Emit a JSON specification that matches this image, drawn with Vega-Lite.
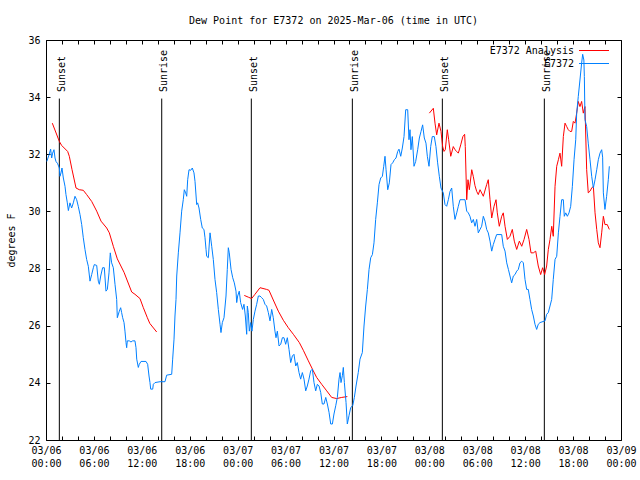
{
  "$schema": "https://vega.github.io/schema/vega-lite/v6.json",
  "autosize": "none",
  "width": 575,
  "height": 400,
  "padding": {"left": 46, "top": 40, "right": 19, "bottom": 40},
  "background": "white",
  "title": {"text": "Dew Point for E7372 on 2025-Mar-06 (time in UTC)", "anchor": "middle", "offset": 9, "font": "DejaVu Sans Mono", "fontSize": 10, "fontWeight": "normal", "color": "#000"},
  "config": {
    "view": {"stroke": "#000", "strokeWidth": 1},
    "font": "DejaVu Sans Mono",
    "axis": {"grid": false, "domain": false, "tickColor": "#000", "tickSize": -4, "labelColor": "#000", "labelFont": "DejaVu Sans Mono", "labelFontSize": 10, "titleFont": "DejaVu Sans Mono", "titleFontSize": 10, "titleFontWeight": "normal", "titleColor": "#000"},
    "legend": {"orient": "none", "legendX": 543, "legendY": 5.5, "symbolType": "M-15,0H15", "symbolSize": 4, "symbolStrokeWidth": 1, "labelAlign": "right", "labelOffset": -25, "labelFont": "DejaVu Sans Mono", "labelFontSize": 10, "labelColor": "#000", "rowPadding": 3, "padding": 0}
  },
  "resolve": {"axis": {"x": "independent", "y": "independent"}},
  "datasets": {
    "sun": [
      {"h": 1.67, "event": "Sunset"},
      {"h": 14.49, "event": "Sunrise"},
      {"h": 25.71, "event": "Sunset"},
      {"h": 38.36, "event": "Sunrise"},
      {"h": 49.63, "event": "Sunset"},
      {"h": 62.4, "event": "Sunrise"}
    ],
    "analysis": [
      {"run":1,"h":0.79,"v":33.09},{"run":1,"h":1.67,"v":32.45},{"run":1,"h":1.96,"v":32.31},{"run":1,"h":2.71,"v":32.10},{"run":1,"h":2.92,"v":31.93},{"run":1,"h":3.26,"v":31.46},{"run":1,"h":3.76,"v":30.82},{"run":1,"h":4.17,"v":30.76},{"run":1,"h":4.67,"v":30.74},{"run":1,"h":5.09,"v":30.59},{"run":1,"h":5.72,"v":30.35},{"run":1,"h":6.35,"v":30.01},{"run":1,"h":6.89,"v":29.66},{"run":1,"h":7.6,"v":29.42},{"run":1,"h":7.93,"v":29.25},{"run":1,"h":8.43,"v":28.78},{"run":1,"h":8.93,"v":28.34},{"run":1,"h":9.77,"v":27.87},{"run":1,"h":10.73,"v":27.18},{"run":1,"h":11.14,"v":27.10},{"run":1,"h":11.77,"v":26.95},{"run":1,"h":12.19,"v":26.63},{"run":1,"h":12.69,"v":26.28},{"run":1,"h":13.0,"v":26.08},{"run":1,"h":13.86,"v":25.78},
      {"run":2,"h":24.83,"v":27.06},{"run":2,"h":25.33,"v":27.0},{"run":2,"h":25.75,"v":26.95},{"run":2,"h":26.17,"v":27.10},{"run":2,"h":26.8,"v":27.33},{"run":2,"h":27.63,"v":27.27},{"run":2,"h":27.92,"v":27.24},{"run":2,"h":28.46,"v":26.9},{"run":2,"h":29.09,"v":26.51},{"run":2,"h":29.72,"v":26.19},{"run":2,"h":30.34,"v":25.93},{"run":2,"h":30.97,"v":25.70},{"run":2,"h":31.72,"v":25.41},{"run":2,"h":32.22,"v":25.14},{"run":2,"h":32.85,"v":24.77},{"run":2,"h":33.47,"v":24.42},{"run":2,"h":33.89,"v":24.19},{"run":2,"h":34.52,"v":23.95},{"run":2,"h":35.15,"v":23.72},{"run":2,"h":35.77,"v":23.49},{"run":2,"h":36.4,"v":23.45},{"run":2,"h":37.03,"v":23.49},{"run":2,"h":37.73,"v":23.52},
      {"run":3,"h":48.0,"v":33.44},{"run":3,"h":48.5,"v":33.61},{"run":3,"h":48.71,"v":33.09},{"run":3,"h":48.92,"v":32.68},{"run":3,"h":49.21,"v":33.09},{"run":3,"h":49.46,"v":32.80},{"run":3,"h":49.67,"v":32.27},{"run":3,"h":49.84,"v":32.10},{"run":3,"h":50.0,"v":32.16},{"run":3,"h":50.25,"v":32.86},{"run":3,"h":50.42,"v":32.51},{"run":3,"h":50.68,"v":31.93},{"run":3,"h":51.0,"v":32.27},{"run":3,"h":51.21,"v":32.16},{"run":3,"h":51.43,"v":32.10},{"run":3,"h":51.63,"v":32.04},{"run":3,"h":51.93,"v":32.33},{"run":3,"h":52.2,"v":32.62},{"run":3,"h":52.42,"v":32.7},{"run":3,"h":52.5,"v":32.27},{"run":3,"h":52.68,"v":30.41},{"run":3,"h":52.84,"v":31.11},{"run":3,"h":53.01,"v":30.76},{"run":3,"h":53.31,"v":31.46},{"run":3,"h":53.5,"v":31.23},{"run":3,"h":53.72,"v":30.9},{"run":3,"h":53.93,"v":30.70},{"run":3,"h":54.13,"v":30.59},{"run":3,"h":54.35,"v":30.76},{"run":3,"h":54.76,"v":30.53},{"run":3,"h":55.18,"v":30.94},{"run":3,"h":55.38,"v":31.11},{"run":3,"h":55.6,"v":30.41},{"run":3,"h":55.81,"v":29.77},{"run":3,"h":56.1,"v":30.18},{"run":3,"h":56.35,"v":30.41},{"run":3,"h":56.51,"v":29.95},{"run":3,"h":56.76,"v":29.48},{"run":3,"h":57.06,"v":29.83},{"run":3,"h":57.26,"v":29.95},{"run":3,"h":57.48,"v":29.48},{"run":3,"h":57.77,"v":29.02},{"run":3,"h":58.1,"v":29.13},{"run":3,"h":58.39,"v":29.37},{"run":3,"h":58.64,"v":28.96},{"run":3,"h":58.94,"v":28.67},{"run":3,"h":59.27,"v":28.96},{"run":3,"h":59.57,"v":28.78},{"run":3,"h":59.86,"v":29.02},{"run":3,"h":60.19,"v":29.37},{"run":3,"h":60.48,"v":29.02},{"run":3,"h":60.73,"v":28.55},{"run":3,"h":61.02,"v":28.55},{"run":3,"h":61.32,"v":28.61},{"run":3,"h":61.64,"v":28.09},{"run":3,"h":61.94,"v":27.79},{"run":3,"h":62.19,"v":28.03},{"run":3,"h":62.44,"v":27.79},{"run":3,"h":62.69,"v":28.09},{"run":3,"h":62.9,"v":28.67},{"run":3,"h":63.11,"v":29.02},{"run":3,"h":63.33,"v":29.48},{"run":3,"h":63.52,"v":29.13},{"run":3,"h":63.74,"v":30.88},{"run":3,"h":63.95,"v":31.58},{"run":3,"h":64.16,"v":31.81},{"run":3,"h":64.36,"v":32.04},{"run":3,"h":64.57,"v":31.58},{"run":3,"h":64.78,"v":32.62},{"run":3,"h":64.99,"v":33.09},{"run":3,"h":65.2,"v":32.97},{"run":3,"h":65.4,"v":32.86},{"run":3,"h":65.61,"v":32.80},{"run":3,"h":65.82,"v":32.80},{"run":3,"h":66.03,"v":33.15},{"run":3,"h":66.24,"v":33.09},{"run":3,"h":66.45,"v":33.44},{"run":3,"h":66.65,"v":33.85},{"run":3,"h":66.86,"v":33.67},{"run":3,"h":67.07,"v":33.85},{"run":3,"h":67.28,"v":33.44},{"run":3,"h":67.49,"v":33.67},{"run":3,"h":67.7,"v":31.46},{"run":3,"h":67.9,"v":30.65},{"run":3,"h":68.12,"v":30.71},{"run":3,"h":68.33,"v":30.82},{"run":3,"h":68.54,"v":30.88},{"run":3,"h":68.75,"v":29.95},{"run":3,"h":68.96,"v":29.37},{"run":3,"h":69.16,"v":28.90},{"run":3,"h":69.37,"v":28.73},{"run":3,"h":69.58,"v":29.25},{"run":3,"h":69.79,"v":29.83},{"run":3,"h":69.99,"v":29.54},{"run":3,"h":70.28,"v":29.54},{"run":3,"h":70.54,"v":29.37}
    ],
    "obs": [
      {"h":0.1,"v":31.75},{"h":0.38,"v":31.98},{"h":0.58,"v":32.18},{"h":0.71,"v":31.87},{"h":0.83,"v":32.04},{"h":1.0,"v":32.16},{"h":1.13,"v":31.87},{"h":1.25,"v":31.75},{"h":1.46,"v":31.67},{"h":1.67,"v":31.52},{"h":1.75,"v":31.23},{"h":1.88,"v":31.35},{"h":2.0,"v":31.52},{"h":2.17,"v":31.17},{"h":2.38,"v":30.88},{"h":2.5,"v":30.59},{"h":2.67,"v":30.30},{"h":2.8,"v":30.03},{"h":3.0,"v":30.30},{"h":3.21,"v":30.12},{"h":3.42,"v":30.30},{"h":3.63,"v":30.53},{"h":3.84,"v":30.41},{"h":4.04,"v":30.18},{"h":4.26,"v":29.89},{"h":4.47,"v":29.54},{"h":4.67,"v":29.08},{"h":4.88,"v":28.67},{"h":5.09,"v":28.32},{"h":5.3,"v":28.08},{"h":5.51,"v":27.56},{"h":5.72,"v":27.79},{"h":5.93,"v":28.03},{"h":6.05,"v":28.14},{"h":6.35,"v":28.11},{"h":6.55,"v":27.56},{"h":6.68,"v":27.45},{"h":6.85,"v":27.74},{"h":7.09,"v":28.03},{"h":7.3,"v":28.03},{"h":7.51,"v":27.21},{"h":7.68,"v":27.27},{"h":7.89,"v":27.85},{"h":8.05,"v":28.55},{"h":8.22,"v":28.20},{"h":8.43,"v":28.03},{"h":8.64,"v":27.45},{"h":8.85,"v":26.92},{"h":8.93,"v":26.28},{"h":9.18,"v":26.51},{"h":9.35,"v":26.63},{"h":9.47,"v":26.46},{"h":9.6,"v":26.28},{"h":9.77,"v":26.11},{"h":9.89,"v":25.81},{"h":10.02,"v":25.41},{"h":10.1,"v":25.23},{"h":10.18,"v":25.47},{"h":10.43,"v":25.47},{"h":10.64,"v":25.43},{"h":10.85,"v":25.47},{"h":11.14,"v":25.47},{"h":11.27,"v":25.23},{"h":11.36,"v":24.83},{"h":11.56,"v":24.54},{"h":11.68,"v":24.65},{"h":11.9,"v":24.75},{"h":12.52,"v":24.75},{"h":12.73,"v":24.65},{"h":12.9,"v":24.24},{"h":13.02,"v":24.01},{"h":13.11,"v":23.78},{"h":13.36,"v":23.78},{"h":13.44,"v":23.95},{"h":13.65,"v":24.01},{"h":14.28,"v":24.04},{"h":14.9,"v":24.04},{"h":15.11,"v":24.27},{"h":15.74,"v":24.30},{"h":15.86,"v":24.83},{"h":16.03,"v":25.53},{"h":16.15,"v":26.34},{"h":16.28,"v":26.92},{"h":16.37,"v":27.74},{"h":16.57,"v":28.55},{"h":16.78,"v":29.25},{"h":16.99,"v":30.01},{"h":17.19,"v":30.41},{"h":17.32,"v":30.76},{"h":17.49,"v":30.65},{"h":17.62,"v":30.53},{"h":17.74,"v":31.11},{"h":17.91,"v":31.46},{"h":18.12,"v":31.44},{"h":18.32,"v":31.52},{"h":18.53,"v":31.35},{"h":18.66,"v":31.05},{"h":18.87,"v":30.24},{"h":18.99,"v":30.30},{"h":19.16,"v":30.12},{"h":19.37,"v":29.72},{"h":19.57,"v":29.42},{"h":19.78,"v":29.37},{"h":19.91,"v":29.08},{"h":20.04,"v":28.67},{"h":20.12,"v":28.43},{"h":20.33,"v":28.38},{"h":20.54,"v":29.25},{"h":20.75,"v":28.78},{"h":20.95,"v":28.32},{"h":21.16,"v":27.62},{"h":21.37,"v":27.16},{"h":21.58,"v":26.57},{"h":21.79,"v":26.05},{"h":21.91,"v":25.76},{"h":22.08,"v":26.11},{"h":22.29,"v":26.28},{"h":22.54,"v":27.04},{"h":22.7,"v":27.97},{"h":22.83,"v":28.73},{"h":22.95,"v":28.55},{"h":23.17,"v":27.97},{"h":23.38,"v":27.68},{"h":23.58,"v":27.50},{"h":23.79,"v":27.21},{"h":23.88,"v":26.81},{"h":24.0,"v":27.04},{"h":24.2,"v":27.21},{"h":24.37,"v":26.81},{"h":24.62,"v":26.57},{"h":24.79,"v":26.75},{"h":24.96,"v":26.34},{"h":25.13,"v":25.70},{"h":25.21,"v":26.69},{"h":25.33,"v":26.46},{"h":25.46,"v":25.81},{"h":25.63,"v":26.11},{"h":25.79,"v":25.81},{"h":25.96,"v":26.22},{"h":26.17,"v":26.51},{"h":26.38,"v":26.75},{"h":26.59,"v":27.04},{"h":26.8,"v":27.04},{"h":27.01,"v":26.98},{"h":27.21,"v":26.92},{"h":27.42,"v":26.75},{"h":27.63,"v":26.69},{"h":27.84,"v":26.46},{"h":28.05,"v":26.17},{"h":28.26,"v":26.57},{"h":28.46,"v":26.28},{"h":28.67,"v":25.81},{"h":28.8,"v":25.58},{"h":28.97,"v":25.81},{"h":29.18,"v":25.29},{"h":29.39,"v":25.35},{"h":29.6,"v":25.58},{"h":29.8,"v":25.58},{"h":30.01,"v":25.35},{"h":30.22,"v":25.58},{"h":30.43,"v":25.17},{"h":30.64,"v":24.71},{"h":30.85,"v":24.94},{"h":31.05,"v":25.0},{"h":31.27,"v":24.59},{"h":31.47,"v":24.71},{"h":31.68,"v":24.36},{"h":31.89,"v":24.13},{"h":32.1,"v":24.36},{"h":32.31,"v":24.13},{"h":32.52,"v":23.72},{"h":32.72,"v":23.89},{"h":32.93,"v":24.13},{"h":33.14,"v":24.42},{"h":33.35,"v":24.48},{"h":33.56,"v":24.01},{"h":33.77,"v":23.72},{"h":33.98,"v":23.95},{"h":34.19,"v":23.89},{"h":34.4,"v":23.66},{"h":34.6,"v":23.26},{"h":34.81,"v":23.26},{"h":35.03,"v":23.49},{"h":35.23,"v":23.26},{"h":35.44,"v":22.97},{"h":35.65,"v":22.56},{"h":35.86,"v":22.56},{"h":36.06,"v":22.91},{"h":36.28,"v":23.20},{"h":36.48,"v":23.49},{"h":36.69,"v":24.13},{"h":36.82,"v":24.36},{"h":36.94,"v":24.01},{"h":37.11,"v":24.25},{"h":37.23,"v":24.54},{"h":37.36,"v":24.01},{"h":37.57,"v":23.31},{"h":37.73,"v":22.56},{"h":37.94,"v":22.85},{"h":38.16,"v":23.14},{"h":38.41,"v":23.20},{"h":38.61,"v":23.49},{"h":38.82,"v":23.89},{"h":39.1,"v":24.36},{"h":39.32,"v":24.83},{"h":39.61,"v":25.06},{"h":39.82,"v":25.99},{"h":40.03,"v":26.69},{"h":40.24,"v":27.27},{"h":40.45,"v":27.97},{"h":40.66,"v":28.38},{"h":40.87,"v":28.49},{"h":41.07,"v":28.90},{"h":41.28,"v":29.72},{"h":41.49,"v":30.30},{"h":41.7,"v":30.94},{"h":41.91,"v":31.17},{"h":42.12,"v":31.23},{"h":42.29,"v":31.58},{"h":42.45,"v":31.93},{"h":42.58,"v":31.46},{"h":42.79,"v":30.76},{"h":42.99,"v":31.00},{"h":43.2,"v":31.64},{"h":43.41,"v":31.70},{"h":43.62,"v":31.81},{"h":43.83,"v":31.87},{"h":44.04,"v":32.10},{"h":44.2,"v":32.18},{"h":44.42,"v":31.93},{"h":44.62,"v":32.22},{"h":44.83,"v":32.62},{"h":45.04,"v":33.56},{"h":45.29,"v":33.56},{"h":45.45,"v":32.51},{"h":45.58,"v":32.86},{"h":45.7,"v":32.16},{"h":45.87,"v":32.62},{"h":46.08,"v":31.58},{"h":46.29,"v":31.75},{"h":46.54,"v":32.16},{"h":46.75,"v":32.57},{"h":46.96,"v":32.80},{"h":47.16,"v":33.03},{"h":47.37,"v":32.57},{"h":47.58,"v":32.39},{"h":47.75,"v":31.93},{"h":47.96,"v":31.58},{"h":48.17,"v":32.27},{"h":48.37,"v":32.62},{"h":48.62,"v":32.62},{"h":48.83,"v":32.27},{"h":49.04,"v":31.70},{"h":49.25,"v":31.23},{"h":49.46,"v":30.82},{"h":49.75,"v":30.65},{"h":49.96,"v":30.24},{"h":50.17,"v":30.18},{"h":50.38,"v":30.41},{"h":50.59,"v":30.70},{"h":50.8,"v":30.82},{"h":51.0,"v":30.18},{"h":51.21,"v":29.72},{"h":51.43,"v":29.95},{"h":51.63,"v":30.18},{"h":51.84,"v":30.41},{"h":52.47,"v":30.41},{"h":52.68,"v":30.01},{"h":52.88,"v":29.95},{"h":53.09,"v":29.83},{"h":53.3,"v":29.60},{"h":53.51,"v":29.72},{"h":53.72,"v":29.48},{"h":53.93,"v":29.72},{"h":54.13,"v":29.25},{"h":54.35,"v":29.37},{"h":54.55,"v":29.48},{"h":54.76,"v":29.83},{"h":54.97,"v":29.66},{"h":55.18,"v":29.37},{"h":55.38,"v":29.25},{"h":55.6,"v":28.96},{"h":55.81,"v":28.61},{"h":56.01,"v":28.84},{"h":56.22,"v":29.02},{"h":56.43,"v":29.19},{"h":57.06,"v":29.19},{"h":57.26,"v":28.78},{"h":57.48,"v":28.61},{"h":57.69,"v":28.20},{"h":57.9,"v":27.97},{"h":58.1,"v":27.74},{"h":58.31,"v":27.50},{"h":58.52,"v":27.74},{"h":58.73,"v":27.79},{"h":58.94,"v":27.91},{"h":59.14,"v":27.97},{"h":59.35,"v":28.20},{"h":59.57,"v":28.26},{"h":59.77,"v":28.20},{"h":59.98,"v":27.62},{"h":60.19,"v":27.27},{"h":60.39,"v":27.27},{"h":60.6,"v":26.92},{"h":60.81,"v":26.57},{"h":61.02,"v":26.34},{"h":61.23,"v":26.05},{"h":61.44,"v":25.87},{"h":61.64,"v":26.05},{"h":61.86,"v":26.11},{"h":62.49,"v":26.17},{"h":62.69,"v":26.40},{"h":62.9,"v":26.46},{"h":63.11,"v":26.69},{"h":63.32,"v":26.92},{"h":63.52,"v":27.62},{"h":63.74,"v":28.32},{"h":63.95,"v":28.43},{"h":64.16,"v":29.25},{"h":64.36,"v":29.83},{"h":64.57,"v":30.41},{"h":64.78,"v":30.41},{"h":64.9,"v":29.83},{"h":65.08,"v":29.95},{"h":65.28,"v":29.83},{"h":65.49,"v":29.95},{"h":65.7,"v":30.18},{"h":65.91,"v":30.88},{"h":66.12,"v":31.81},{"h":66.33,"v":32.51},{"h":66.45,"v":33.44},{"h":66.65,"v":34.02},{"h":66.86,"v":34.60},{"h":67.07,"v":35.19},{"h":67.2,"v":35.5},{"h":67.35,"v":35.3},{"h":67.41,"v":34.72},{"h":67.49,"v":33.21},{"h":67.7,"v":32.97},{"h":67.9,"v":32.39},{"h":68.12,"v":31.81},{"h":68.33,"v":31.23},{"h":68.54,"v":30.82},{"h":68.75,"v":31.11},{"h":68.96,"v":31.46},{"h":69.16,"v":31.81},{"h":69.37,"v":32.04},{"h":69.58,"v":32.16},{"h":69.7,"v":31.9},{"h":69.79,"v":30.65},{"h":69.99,"v":30.07},{"h":70.2,"v":30.53},{"h":70.41,"v":31.11},{"h":70.54,"v":31.58}
    ]
  },
  "layer": [
    {
      "data": {"name": "sun"},
      "mark": {"type": "rule", "color": "#000", "strokeWidth": 1},
      "encoding": {
        "x": {"field": "h", "type": "quantitative", "scale": {"domain": [0, 72], "nice": false, "zero": false},
              "axis": {"orient": "top", "values": [0,2,4,6,8,10,12,14,16,18,20,22,24,26,28,30,32,34,36,38,40,42,44,46,48,50,52,54,56,58,60,62,64,66,68,70,72], "labels": false, "title": null}},
        "y": {"datum": 33.95, "type": "quantitative", "scale": {"domain": [22, 36], "nice": false, "zero": false},
              "axis": {"orient": "right", "values": [22,24,26,28,30,32,34,36], "labels": false, "title": null}},
        "y2": {"datum": 22}
      }
    },
    {
      "data": {"name": "analysis"},
      "mark": {"type": "line", "strokeWidth": 1, "interpolate": "linear"},
      "encoding": {
        "x": {"field": "h", "type": "quantitative",
              "axis": {"orient": "bottom", "values": [0,2,4,6,8,10,12,14,16,18,20,22,24,26,28,30,32,34,36,38,40,42,44,46,48,50,52,54,56,58,60,62,64,66,68,70,72], "title": null, "labelPadding": 9, "labelLineHeight": 13, "labelOverlap": false, "labelFlush": false, "labelBound": false,
                       "labelExpr": "datum.value % 6 === 0 ? ['03/0' + (6 + floor(datum.value / 24)), (datum.value % 24 < 10 ? '0' : '') + (datum.value % 24) + ':00'] : ''"}},
        "y": {"field": "v", "type": "quantitative",
              "axis": {"orient": "left", "values": [22,24,26,28,30,32,34,36], "title": "degrees F", "labelPadding": 10, "titlePadding": 11}},
        "detail": {"field": "run"},
        "color": {"datum": "E7372 Analysis", "scale": {"domain": ["E7372 Analysis", "E7372"], "range": ["#ff0000", "#0080ff"]}, "legend": {"title": null}}
      }
    },
    {
      "data": {"name": "obs"},
      "mark": {"type": "line", "strokeWidth": 1, "interpolate": "linear"},
      "encoding": {
        "x": {"field": "h", "type": "quantitative", "axis": null},
        "y": {"field": "v", "type": "quantitative", "axis": null},
        "color": {"datum": "E7372", "legend": {"title": null}}
      }
    },
    {
      "data": {"name": "sun"},
      "mark": {"type": "text", "angle": 270, "align": "left", "baseline": "middle", "dy": 2.5, "font": "DejaVu Sans Mono", "fontSize": 10, "color": "#000"},
      "encoding": {
        "x": {"field": "h", "type": "quantitative", "axis": null},
        "y": {"datum": 34.18, "type": "quantitative", "axis": null},
        "text": {"field": "event"}
      }
    }
  ]
}
